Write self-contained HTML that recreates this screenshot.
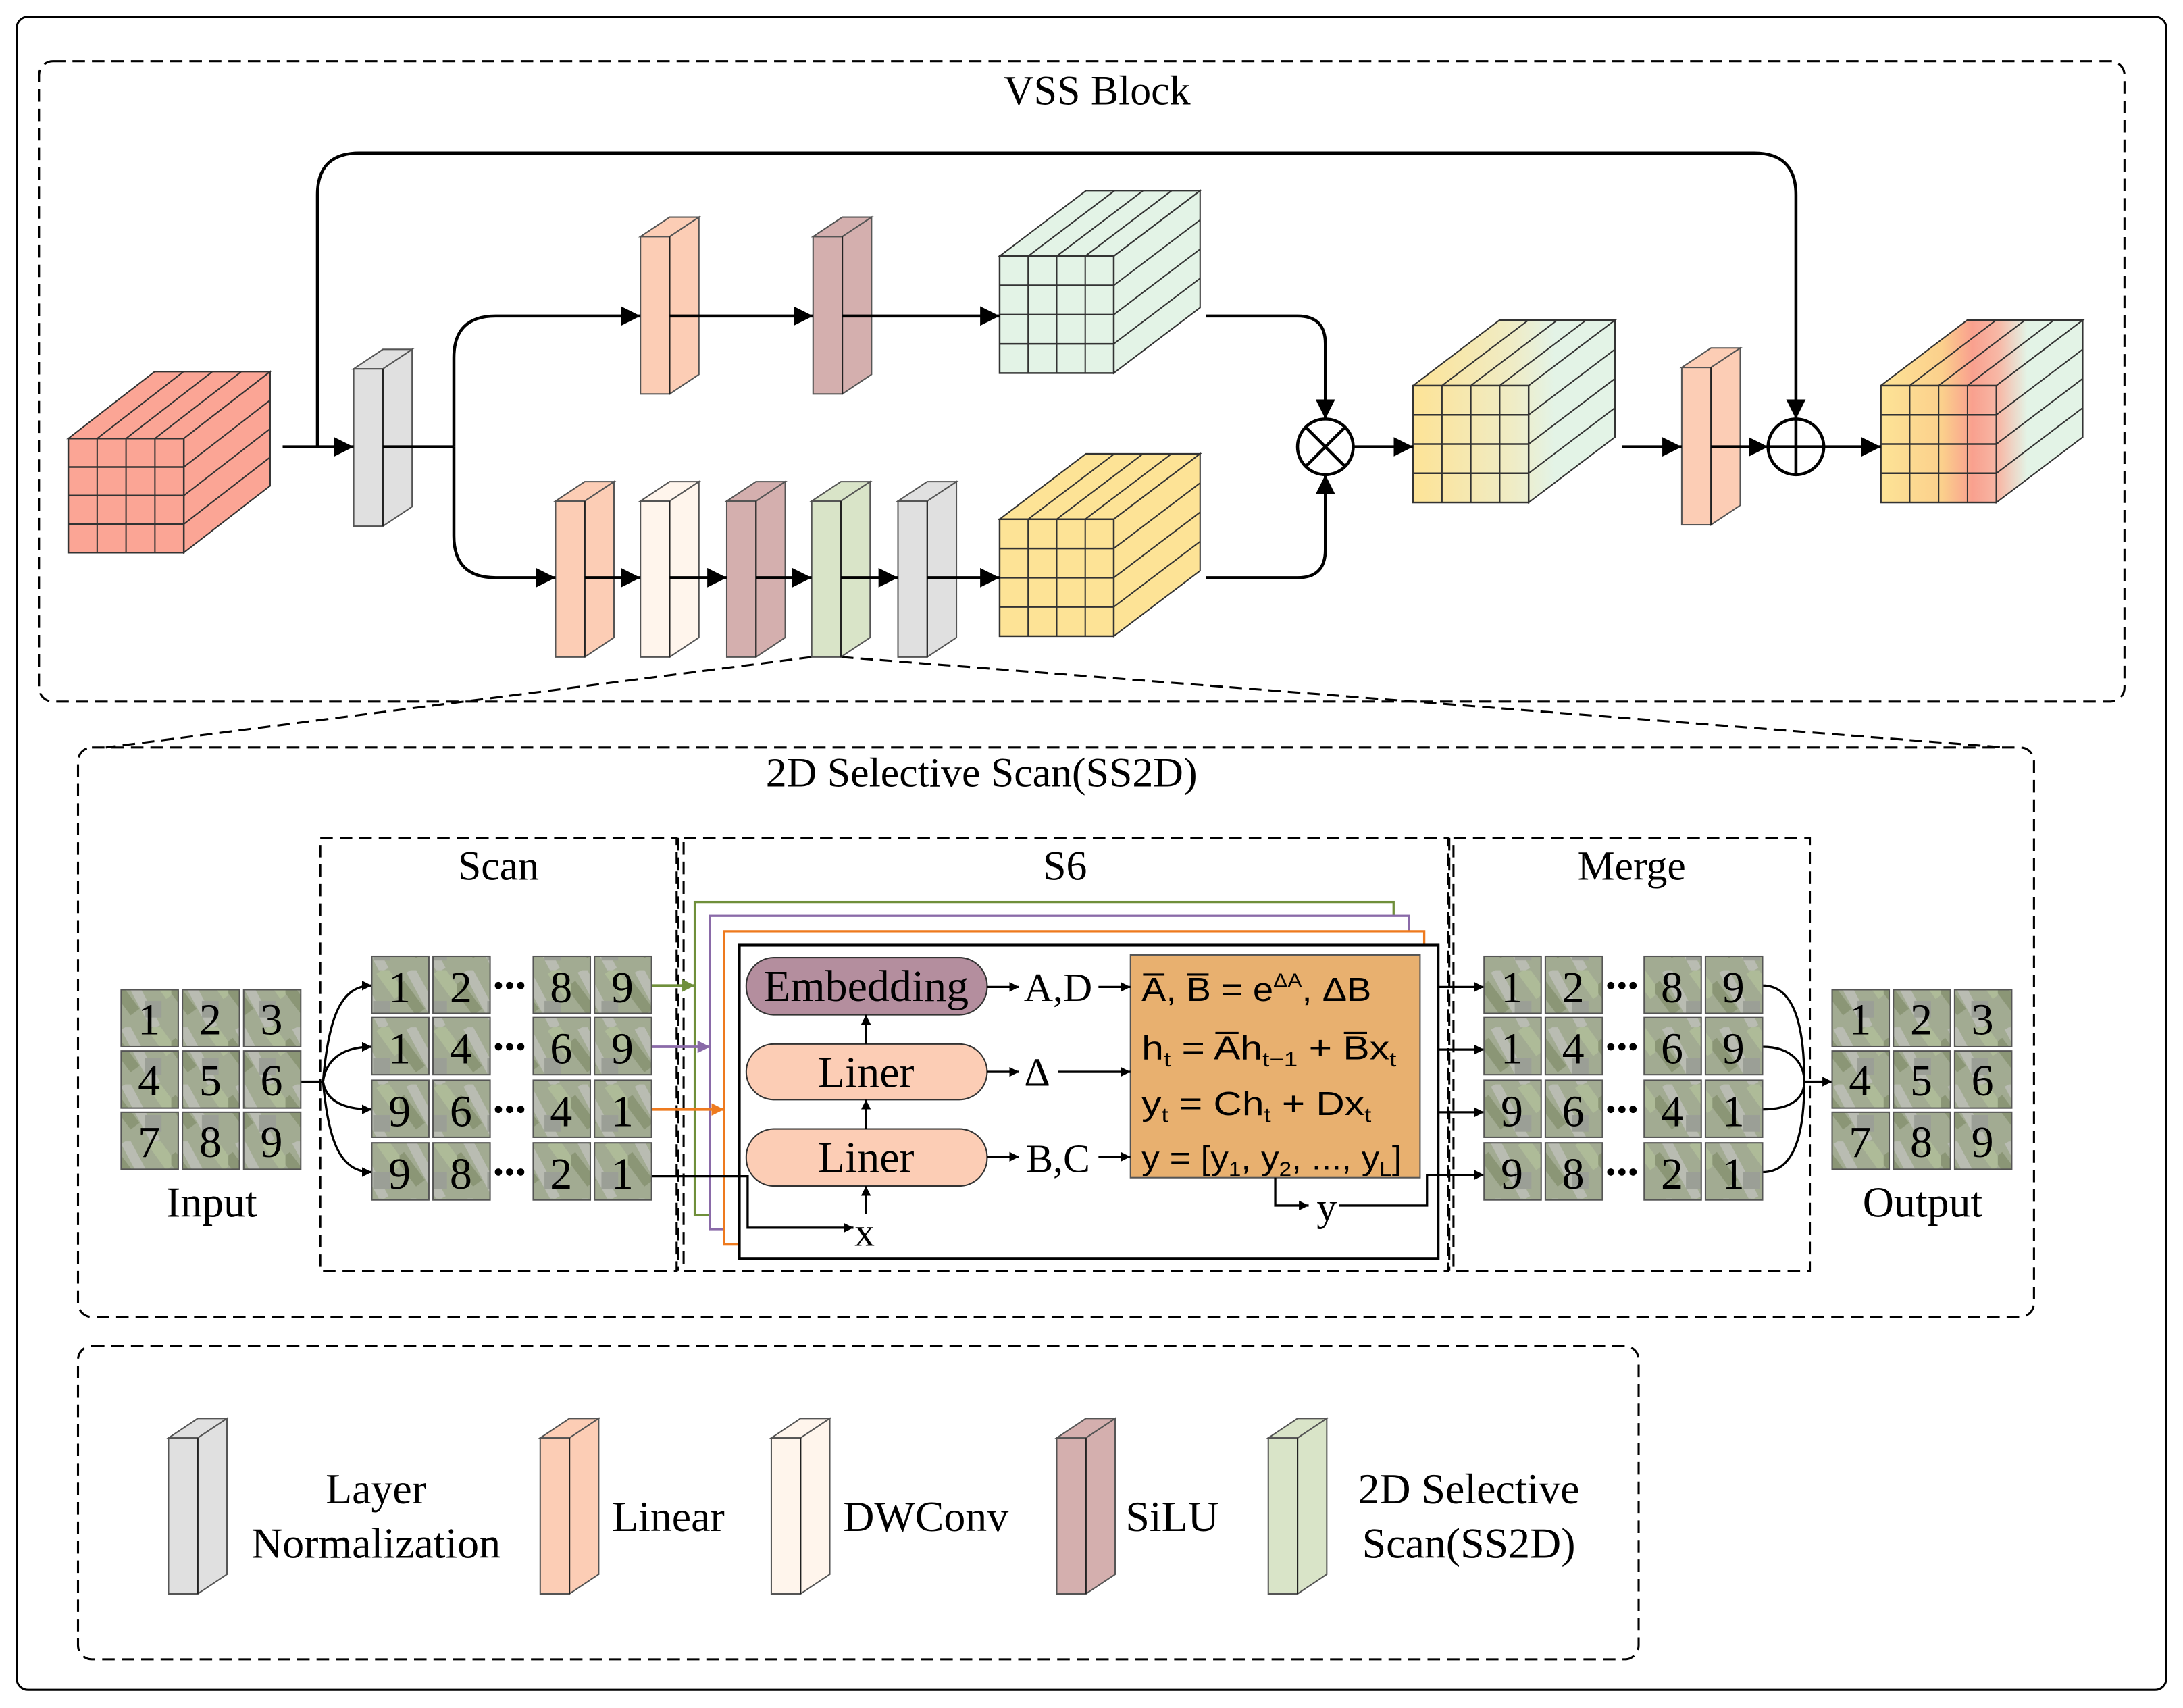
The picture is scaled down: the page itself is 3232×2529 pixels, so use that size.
<!DOCTYPE html>
<html><head><meta charset="utf-8"><style>
html,body{margin:0;padding:0;background:#fff;width:3232px;height:2529px;overflow:hidden}
svg{display:block}
text{font-family:"Liberation Serif",serif;fill:#000}
.s{font-family:"Liberation Sans",sans-serif}
</style></head><body>
<svg id="sv" xmlns="http://www.w3.org/2000/svg" width="3232" height="2529" viewBox="0 0 1568 1227">
<defs>
<marker id="ar" viewBox="0 0 10 10" refX="10" refY="5" markerWidth="7" markerHeight="7" markerUnits="userSpaceOnUse" orient="auto"><path d="M0,0L10,5L0,10z" fill="#000"/></marker>
<marker id="arB" viewBox="0 0 10 10" refX="10" refY="5" markerWidth="14" markerHeight="14" markerUnits="userSpaceOnUse" orient="auto"><path d="M0,0L10,5L0,10z" fill="#000"/></marker>
<marker id="arG" viewBox="0 0 10 10" refX="10" refY="5" markerWidth="9" markerHeight="9" markerUnits="userSpaceOnUse" orient="auto"><path d="M0,0L10,5L0,10z" fill="#6f8f3a"/></marker>
<marker id="arP" viewBox="0 0 10 10" refX="10" refY="5" markerWidth="9" markerHeight="9" markerUnits="userSpaceOnUse" orient="auto"><path d="M0,0L10,5L0,10z" fill="#8a6aa8"/></marker>
<marker id="arO" viewBox="0 0 10 10" refX="10" refY="5" markerWidth="9" markerHeight="9" markerUnits="userSpaceOnUse" orient="auto"><path d="M0,0L10,5L0,10z" fill="#ee7a1e"/></marker>
<linearGradient id="gM" gradientUnits="userSpaceOnUse" x1="1015" y1="0" x2="1160" y2="0">
<stop offset="0" stop-color="#fde396"/><stop offset="0.5" stop-color="#efecc6"/><stop offset="0.7" stop-color="#e3f3e6"/><stop offset="1" stop-color="#e3f3e6"/></linearGradient>
<linearGradient id="gO" gradientUnits="userSpaceOnUse" x1="1351" y1="0" x2="1497" y2="0">
<stop offset="0" stop-color="#fde396"/><stop offset="0.3" stop-color="#fbd08c"/><stop offset="0.45" stop-color="#f9a08e"/><stop offset="0.58" stop-color="#f7b8a6"/><stop offset="0.72" stop-color="#e3f3e6"/><stop offset="1" stop-color="#e3f3e6"/></linearGradient>
<pattern id="aer" patternUnits="userSpaceOnUse" width="41" height="41">
<rect width="41" height="41" fill="#a2ab92"/>
<path d="M8,0L30,41" stroke="#b9bcb2" stroke-width="7"/>
<path d="M0,10L15,30" stroke="#8b9676" stroke-width="8"/>
<path d="M28,0L41,18" stroke="#aebb98" stroke-width="9"/>
<rect x="22" y="22" width="12" height="12" fill="#9b9f96"/>
</pattern>
</defs>
<rect x="0" y="0" width="1568" height="1227" fill="#fff"/>
<rect x="12" y="12" width="1544" height="1202" rx="8" fill="none" stroke="#000" stroke-width="1.5"/>
<g fill="none" stroke="#000" stroke-width="1.5" stroke-dasharray="9,5">
<rect x="28" y="44" width="1498" height="460" rx="10"/>
<rect x="56" y="537" width="1405" height="409" rx="10"/>
<rect x="56" y="967" width="1121" height="225" rx="10"/>
<path d="M583,472L76,537"/><path d="M604,472L1440,537"/>
<rect x="230" y="602" width="256" height="311" rx="0"/>
<rect x="491" y="602" width="549" height="311"/>
<rect x="1044" y="602" width="256" height="311"/>
<path d="M487,602V913M1041,602V913"/>
</g>
<text x="788" y="75" font-size="30" text-anchor="middle">VSS Block</text>
<text x="705" y="565" font-size="30" text-anchor="middle">2D Selective Scan(SS2D)</text>
<text x="358" y="632" font-size="30" text-anchor="middle">Scan</text>
<text x="765" y="632" font-size="30" text-anchor="middle">S6</text>
<text x="1172" y="632" font-size="30" text-anchor="middle">Merge</text>

<g id="shapes"></g>

<g fill="none" stroke="#000" stroke-width="2.2">
<path d="M203,321H254" marker-end="url(#arB)"/>
<path d="M228,321V140Q228,110 258,110H1260Q1290,110 1290,140V301" marker-end="url(#arB)"/>
<path d="M275,321H326"/>
<path d="M326,321V257Q326,227 356,227H460" marker-end="url(#arB)"/>
<path d="M326,321V385Q326,415 356,415H399" marker-end="url(#arB)"/>
<path d="M481,227H584" marker-end="url(#arB)"/>
<path d="M605,227H718" marker-end="url(#arB)"/>
<path d="M866,227H932Q952,227 952,247V301" marker-end="url(#arB)"/>
<path d="M866,415H932Q952,415 952,395V341" marker-end="url(#arB)"/>
<path d="M420,415H460" marker-end="url(#arB)"/>
<path d="M481,415H522" marker-end="url(#arB)"/>
<path d="M543,415H583" marker-end="url(#arB)"/>
<path d="M604,415H645" marker-end="url(#arB)"/>
<path d="M666,415H718" marker-end="url(#arB)"/>
<path d="M972,321H1015" marker-end="url(#arB)"/>
<path d="M1165,321H1208" marker-end="url(#arB)"/>
<path d="M1229,321H1270" marker-end="url(#arB)"/>
<path d="M1310,321H1351" marker-end="url(#arB)"/>
<ellipse cx="952" cy="321" rx="20" ry="20" fill="#fff"/>
<path d="M938,307L966,335M966,307L938,335"/>
<ellipse cx="1290" cy="321" rx="20" ry="20" fill="#fff"/>
<path d="M1270,321H1310M1290,301V341"/>
</g>

<g fill="#fff" stroke-width="1.6">
<rect x="499" y="648" width="502" height="225" stroke="#6f8f3a"/>
<rect x="510" y="658" width="502" height="225" stroke="#8a6aa8"/>
<rect x="520" y="669" width="503" height="225" stroke="#ee7a1e"/>
<rect x="531" y="679" width="502" height="225" stroke="#000" stroke-width="2"/>
</g>
<rect x="536" y="688" width="173" height="41" rx="20" fill="#b48e9e" stroke="#333" stroke-width="1"/>
<rect x="536" y="750" width="173" height="40" rx="20" fill="#fccdb5" stroke="#333" stroke-width="1"/>
<rect x="536" y="811" width="173" height="41" rx="20" fill="#fccdb5" stroke="#333" stroke-width="1"/>
<rect x="812" y="686" width="208" height="160" fill="#e8b06f" stroke="#555" stroke-width="1"/>
<text x="622" y="719" font-size="32" text-anchor="middle">Embedding</text>
<text x="622" y="781" font-size="32" text-anchor="middle">Liner</text>
<text x="622" y="842" font-size="32" text-anchor="middle">Liner</text>
<text x="760" y="719" font-size="29" text-anchor="middle">A,D</text>
<text x="745" y="780" font-size="29" text-anchor="middle">Δ</text>
<text x="760" y="842" font-size="29" text-anchor="middle">B,C</text>
<text x="621" y="895" font-size="29" text-anchor="middle">x</text>
<text x="953" y="877" font-size="29" text-anchor="middle">y</text>
<g class="s" font-size="24">
<text x="820" y="719" class="s" textLength="165" lengthAdjust="spacingAndGlyphs">A̅, B̅ = e<tspan font-size="14" dy="-10">ΔA</tspan><tspan dy="10">, ΔB</tspan></text>
<text x="820" y="761" class="s" textLength="183" lengthAdjust="spacingAndGlyphs">h<tspan font-size="15" dy="5">t</tspan><tspan dy="-5"> = A̅h</tspan><tspan font-size="15" dy="5">t−1</tspan><tspan dy="-5"> + B̅x</tspan><tspan font-size="15" dy="5">t</tspan></text>
<text x="820" y="801" class="s" textLength="165" lengthAdjust="spacingAndGlyphs">y<tspan font-size="15" dy="5">t</tspan><tspan dy="-5"> = Ch</tspan><tspan font-size="15" dy="5">t</tspan><tspan dy="-5"> + Dx</tspan><tspan font-size="15" dy="5">t</tspan></text>
<text x="820" y="840" class="s" textLength="187" lengthAdjust="spacingAndGlyphs">y = [y<tspan font-size="15" dy="5">1</tspan><tspan dy="-5">, y</tspan><tspan font-size="15" dy="5">2</tspan><tspan dy="-5">, ..., y</tspan><tspan font-size="15" dy="5">L</tspan><tspan dy="-5">]</tspan></text>
</g>
<g fill="none" stroke="#000" stroke-width="1.6">
<path d="M709,709H732" marker-end="url(#ar)"/>
<path d="M789,709H812" marker-end="url(#ar)"/>
<path d="M709,770H732" marker-end="url(#ar)"/>
<path d="M760,770H812" marker-end="url(#ar)"/>
<path d="M709,831H732" marker-end="url(#ar)"/>
<path d="M789,831H812" marker-end="url(#ar)"/>
<path d="M622,750V729" marker-end="url(#ar)"/>
<path d="M622,811V790" marker-end="url(#ar)"/>
<path d="M622,872V852" marker-end="url(#ar)"/>
<path d="M468,845H537V882H613" marker-end="url(#ar)"/>
<path d="M916,846V866H940" marker-end="url(#ar)"/>
<path d="M962,866H1025V844H1066" marker-end="url(#ar)"/>
<path d="M1033,709H1066" marker-end="url(#ar)"/>
<path d="M1033,754H1066" marker-end="url(#ar)"/>
<path d="M1033,799H1066" marker-end="url(#ar)"/>
<path d="M216,777H232"/>
<path d="M232,777C236,730 245,708 267,708" marker-end="url(#ar)"/>
<path d="M232,777C234,762 245,752 267,752" marker-end="url(#ar)"/>
<path d="M232,777C234,790 245,797 267,797" marker-end="url(#ar)"/>
<path d="M232,777C236,822 245,842 267,842" marker-end="url(#ar)"/>
<path d="M1266,708C1290,708 1296,740 1296,777"/>
<path d="M1266,752C1288,752 1296,765 1296,777"/>
<path d="M1266,797C1288,797 1296,788 1296,777"/>
<path d="M1266,842C1290,842 1296,812 1296,777"/>
<path d="M1296,777H1316" marker-end="url(#ar)"/>
</g>
<g fill="none" stroke-width="1.8">
<path d="M468,708H499" stroke="#6f8f3a" marker-end="url(#arG)"/>
<path d="M468,752H510" stroke="#8a6aa8" marker-end="url(#arP)"/>
<path d="M468,797H520" stroke="#ee7a1e" marker-end="url(#arO)"/>
</g>

<g id="tiles"></g>
<g font-size="32" text-anchor="middle">
<text x="107" y="743">1</text><text x="151" y="743">2</text><text x="195" y="743">3</text>
<text x="107" y="787">4</text><text x="151" y="787">5</text><text x="195" y="787">6</text>
<text x="107" y="831">7</text><text x="151" y="831">8</text><text x="195" y="831">9</text>
<text x="1336" y="743">1</text><text x="1380" y="743">2</text><text x="1424" y="743">3</text>
<text x="1336" y="787">4</text><text x="1380" y="787">5</text><text x="1424" y="787">6</text>
<text x="1336" y="831">7</text><text x="1380" y="831">8</text><text x="1424" y="831">9</text>
<text x="287" y="720">1</text><text x="331" y="720">2</text><text x="403" y="720">8</text><text x="447" y="720">9</text>
<text x="287" y="764">1</text><text x="331" y="764">4</text><text x="403" y="764">6</text><text x="447" y="764">9</text>
<text x="287" y="809">9</text><text x="331" y="809">6</text><text x="403" y="809">4</text><text x="447" y="809">1</text>
<text x="287" y="854">9</text><text x="331" y="854">8</text><text x="403" y="854">2</text><text x="447" y="854">1</text>
<text x="1086" y="720">1</text><text x="1130" y="720">2</text><text x="1201" y="720">8</text><text x="1245" y="720">9</text>
<text x="1086" y="764">1</text><text x="1130" y="764">4</text><text x="1201" y="764">6</text><text x="1245" y="764">9</text>
<text x="1086" y="809">9</text><text x="1130" y="809">6</text><text x="1201" y="809">4</text><text x="1245" y="809">1</text>
<text x="1086" y="854">9</text><text x="1130" y="854">8</text><text x="1201" y="854">2</text><text x="1245" y="854">1</text>
</g>
<text x="152" y="874" font-size="31" text-anchor="middle">Input</text>
<text x="1381" y="874" font-size="31" text-anchor="middle">Output</text>

<g font-size="31" text-anchor="middle">
<text x="270" y="1080">Layer</text><text x="270" y="1119">Normalization</text>
<text x="480" y="1100">Linear</text>
<text x="665" y="1100">DWConv</text>
<text x="842" y="1100">SiLU</text>
<text x="1055" y="1080">2D Selective</text><text x="1055" y="1119">Scan(SS2D)</text>
</g>
</svg>
<script>
var NS="http://www.w3.org/2000/svg";
var G=document.getElementById("shapes");
function el(t,a,p){var e=document.createElementNS(NS,t);for(var k in a)e.setAttribute(k,a[k]);(p||G).appendChild(e);return e;}
function slab(x,y,h,c){var w=21,dx=21,dy=-14;
 el("polygon",{points:[x,y,x+dx,y+dy,x+w+dx,y+dy,x+w,y].join(" "),fill:c,stroke:"#555","stroke-width":1});
 el("polygon",{points:[x+w,y,x+w+dx,y+dy,x+w+dx,y+h+dy,x+w,y+h].join(" "),fill:c,stroke:"#555","stroke-width":1});
 el("rect",{x:x,y:y,width:w,height:h,fill:c,stroke:"#555","stroke-width":1});
 el("line",{x1:x+w,y1:y,x2:x+w,y2:y+h,stroke:"#222","stroke-width":1});}
function cube(x,y,w,h,dx,dy,ff,tf,sf){var n=4;
 el("polygon",{points:[x,y,x+dx,y+dy,x+w+dx,y+dy,x+w,y].join(" "),fill:tf,stroke:"#333","stroke-width":1});
 el("polygon",{points:[x+w,y,x+w+dx,y+dy,x+w+dx,y+h+dy,x+w,y+h].join(" "),fill:sf,stroke:"#333","stroke-width":1});
 el("rect",{x:x,y:y,width:w,height:h,fill:ff,stroke:"#333","stroke-width":1.2});
 for(var i=1;i<n;i++){var xx=x+w*i/n,yy=y+h*i/n;
  el("line",{x1:xx,y1:y,x2:xx,y2:y+h,stroke:"#333","stroke-width":1});
  el("line",{x1:x,y1:yy,x2:x+w,y2:yy,stroke:"#333","stroke-width":1.2});
  el("line",{x1:xx,y1:y,x2:xx+dx,y2:y+dy,stroke:"#333","stroke-width":1});
  el("line",{x1:x+w,y1:yy,x2:x+w+dx,y2:yy+dy,stroke:"#333","stroke-width":1});}}
cube(49,315,83,82,62,-48,"#fba595","#fba595","#fba595");
cube(718,184,82,84,62,-47,"#e3f3e6","#e3f3e6","#e3f3e6");
cube(718,373,82,84,62,-47,"#fde396","#fde396","#fde396");
cube(1015,277,83,84,62,-47,"url(#gM)","url(#gM)","url(#gM)");
cube(1351,277,83,84,62,-47,"url(#gO)","url(#gO)","url(#gO)");
slab(254,265,113,"#e0e0e0");
slab(460,170,113,"#fccdb5");slab(584,170,113,"#d4afae");
slab(399,360,112,"#fccdb5");slab(460,360,112,"#fff5ec");slab(522,360,112,"#d4afae");slab(583,360,112,"#d9e4c8");slab(645,360,112,"#e0e0e0");
slab(1208,264,113,"#fccdb5");
slab(121,1033,112,"#e0e0e0");slab(388,1033,112,"#fccdb5");slab(554,1033,112,"#fff5ec");slab(759,1033,112,"#d4afae");slab(911,1033,112,"#d9e4c8");
var T=document.getElementById("tiles");
function tile(x,y){el("rect",{x:x,y:y,width:41,height:41,fill:"url(#aer)",stroke:"#555","stroke-width":1},T);}
[87,131,175].forEach(function(x){[711,755,799].forEach(function(y){tile(x,y);});});
[1316,1360,1404].forEach(function(x){[711,755,799].forEach(function(y){tile(x,y);});});
[687,731,776,821].forEach(function(y){[267,311,383,427,1066,1110,1181,1225].forEach(function(x){tile(x,y);});
 [358,366,374,1157,1165,1173].forEach(function(cx){el("circle",{cx:cx,cy:y+21,r:2.6,fill:"#000"},T);});});
</script>
</body></html>
